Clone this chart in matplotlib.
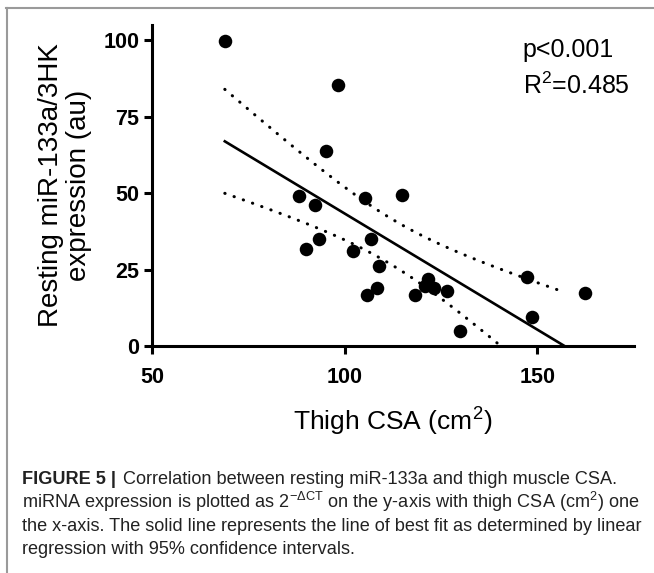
import numpy as np
import matplotlib
matplotlib.use("Agg")
import matplotlib.pyplot as plt
from matplotlib.lines import Line2D

# thigh CSA (cm2) vs resting miR-133a/3HK expression
thigh_csa = [68.9, 98.4, 95.2, 88.2, 92.3, 105.3, 114.9, 89.9, 93.4, 102.1, 106.8, 109.0,
             105.7, 108.5, 118.2, 121.7, 120.9, 123.2, 126.5, 130.0, 147.3, 148.6, 162.5]
mir133a = [99.8, 85.3, 63.9, 49.1, 46.1, 48.3, 49.3, 31.6, 35.1, 31.0, 34.9, 26.3,
           16.8, 19.0, 16.7, 21.9, 19.5, 19.0, 17.9, 5.0, 22.6, 9.4, 17.3]

x_ticks = [50, 100, 150]
y_ticks = [0, 25, 50, 75, 100]
stats_text = ["p<0.001", "R$^2$=0.485"]
caption_head = "FIGURE 5 |"
caption_lines = [
    "Correlation between resting miR-133a and thigh muscle CSA.",
    "miRNA expression is plotted as 2$^{\u2212\u0394\\mathrm{CT}}$ on the y-axis with thigh CSA (cm$^2$) one",
    "the x-axis. The solid line represents the line of best fit as determined by linear",
    "regression with 95% confidence intervals.",
]

plt.rcParams["font.family"] = ["Liberation Sans", "DejaVu Sans"]
plt.rcParams["mathtext.fontset"] = "custom"
plt.rcParams["mathtext.rm"] = "Liberation Sans"
plt.rcParams["mathtext.it"] = "Liberation Sans:italic"
plt.rcParams["mathtext.bf"] = "Liberation Sans:bold"

x = np.array(thigh_csa)
y = np.array(mir133a)

# linear regression + 95% CI of the fit
n = len(x)
slope, intercept = np.polyfit(x, y, 1)
resid = y - (slope * x + intercept)
s_err = np.sqrt(np.sum(resid ** 2) / (n - 2))
t_val = 2.080  # t(0.975, df=21)
x_end = min(x.max(), -intercept / slope)
xf = np.linspace(x.min(), x_end, 200)
yf = slope * xf + intercept
ci = t_val * s_err * np.sqrt(1 / n + (xf - x.mean()) ** 2 / np.sum((x - x.mean()) ** 2))

W, H = 654, 573
fig = plt.figure(figsize=(W / 100, H / 100), dpi=100)
ax = fig.add_axes([0.2324, 0.3962, 0.7364, 0.5602])

ax.plot(xf, yf, color="black", lw=1.9, zorder=2)
for band in (yf + ci, yf - ci):
    ax.plot(xf, band, color="black", lw=2.2, linestyle=(0, (0.1, 3.1)),
            dash_capstyle="round", zorder=2)
ax.scatter(x, y, s=95, color="black", zorder=3, linewidths=0)

ax.set_xlim(50, 175)
ax.set_ylim(0, 105)
ax.set_xticks(x_ticks)
ax.set_yticks(y_ticks)
for side in ("top", "right"):
    ax.spines[side].set_visible(False)
for side in ("left", "bottom"):
    ax.spines[side].set_linewidth(2.2)
ax.tick_params(width=2.2, length=6, labelsize=15.5, pad=3)
ax.tick_params(axis="x", pad=9)
for lab in ax.get_xticklabels() + ax.get_yticklabels():
    lab.set_fontweight("bold")

ax.set_xlabel("Thigh CSA (cm$^2$)", fontsize=19, labelpad=13)
ax.set_ylabel("Resting miR-133a/3HK\nexpression (au)", fontsize=20, labelpad=8,
              linespacing=1.1)

ax.text(0.77, 0.901, stats_text[0], transform=ax.transAxes, fontsize=18, va="baseline")
ax.text(0.77, 0.785, stats_text[1], transform=ax.transAxes, fontsize=18, va="baseline")

# frame lines round the figure panel (top and left only)
grey = "#9a9a9a"
fig.add_artist(Line2D([6 / W, 1], [1 - 8 / H, 1 - 8 / H], color=grey, lw=1.5,
                      transform=fig.transFigure))
fig.add_artist(Line2D([7 / W, 7 / W], [0, 1 - 8 / H], color=grey, lw=1.5,
                      transform=fig.transFigure))

# caption, sized so the longest line fits the panel width
renderer = fig.canvas.get_renderer()
cap_color = "#222222"
x0 = 22 / W
baselines = [484, 508, 531, 554]
probe = fig.text(0, 0, caption_lines[2], fontsize=12.5)
w = probe.get_window_extent(renderer).width
probe.remove()
cap_size = min(13.2, 12.5 * 624 / w)

t1 = fig.text(x0, 1 - baselines[0] / H, caption_head, fontsize=cap_size,
              fontweight="bold", va="baseline", color=cap_color)
bb = t1.get_window_extent(renderer)
fig.text((bb.x1 + 7) / W, 1 - baselines[0] / H, caption_lines[0], fontsize=cap_size,
         va="baseline", color=cap_color)
for by, txt in zip(baselines[1:], caption_lines[1:]):
    fig.text(x0, 1 - by / H, txt, fontsize=cap_size, va="baseline", color=cap_color)

fig.savefig("out.png", dpi=100)
